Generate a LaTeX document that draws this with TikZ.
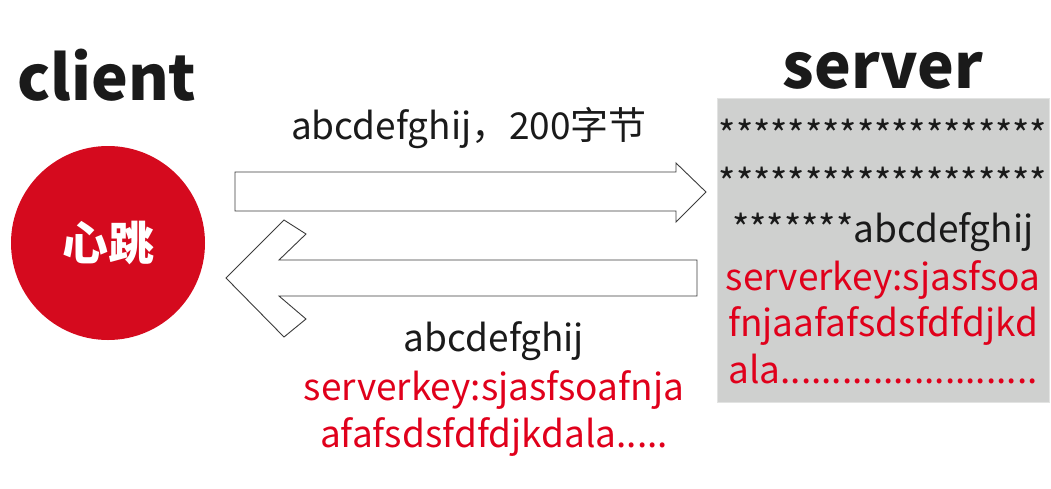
\documentclass[tikz,border=0pt]{standalone}
\usepackage{fontspec}
\setmainfont{Noto Sans CJK SC}
\usetikzlibrary{positioning}
\definecolor{ink}{HTML}{1A1A1A}
\definecolor{heartred}{HTML}{D50A1E}
\definecolor{keyred}{HTML}{E0001B}
\definecolor{boxgray}{HTML}{CFD0CF}
\definecolor{boxedge}{HTML}{E2E3E2}
\newcommand{\zh}[1]{{\fontsize{38}{38}\selectfont #1}}
\tikzset{
  headline/.style={
    font=\fontsize{62}{66}\selectfont\bfseries, text=ink,
    anchor=base, inner sep=0pt
  },
  msgline/.style={
    font=\fontsize{37}{44}\selectfont, text=ink,
    anchor=base, inner sep=0pt
  },
  keyline/.style={msgline, text=keyred},
  blockarrow/.style={
    draw=ink!85, fill=white, line width=0.9pt, line join=miter
  }
}

\begin{document}
\begin{tikzpicture}[x=1pt,y=-1pt]
  \useasboundingbox (0,0) rectangle (1051,488);
  % titles
  \node[headline] (client) at (107,100) {client};
  \node[headline] (server) at (883,88) {server};
  % heartbeat
  \node[circle, fill=heartred, minimum size=194pt, inner sep=0pt,
    text=white, font=\fontsize{46}{46}\selectfont\bfseries] (beat) at (108,243) {心跳};
  % server buffer
  \node[draw=boxedge, fill=boxgray, line width=0.8pt, anchor=north west,
    minimum width=332pt, minimum height=304pt, inner sep=0pt] (buffer) at (717,98) {};
  \node[msgline] (row1) at (883,148) {*******************};
  \node[msgline] (row2) at (883,196) {*******************};
  \node[msgline] (row3) at (883,242) {*******abcdefghij};
  \node[keyline] (row4) at (883,290) {serverkey:sjasfsoa};
  \node[keyline] (row5) at (883,336) {fnjaafafsdsfdfdjkd};
  \node[keyline] (row6) at (883,383) {ala.........................};
  % request arrow
  \draw[blockarrow] (235,172) -- (676,172) -- (676,163) -- (706,192)
    -- (676,222) -- (676,211) -- (235,211) -- cycle;
  \node[msgline] (send) at (469,139) {abcdefghij\zh{，}200\zh{字节}};
  % reply arrow
  \draw[blockarrow] (697,260) -- (279,260) -- (306,234) -- (284,220)
    -- (226,278) -- (284,337) -- (306,319) -- (279,296) -- (697,296) -- cycle;
  \node[msgline] (reply1) at (494,351) {abcdefghij};
  \node[keyline] (reply2) at (494,400) {serverkey:sjasfsoafnja};
  \node[keyline] (reply3) at (494,447) {afafsdsfdfdjkdala.....};
\end{tikzpicture}
\end{document}
